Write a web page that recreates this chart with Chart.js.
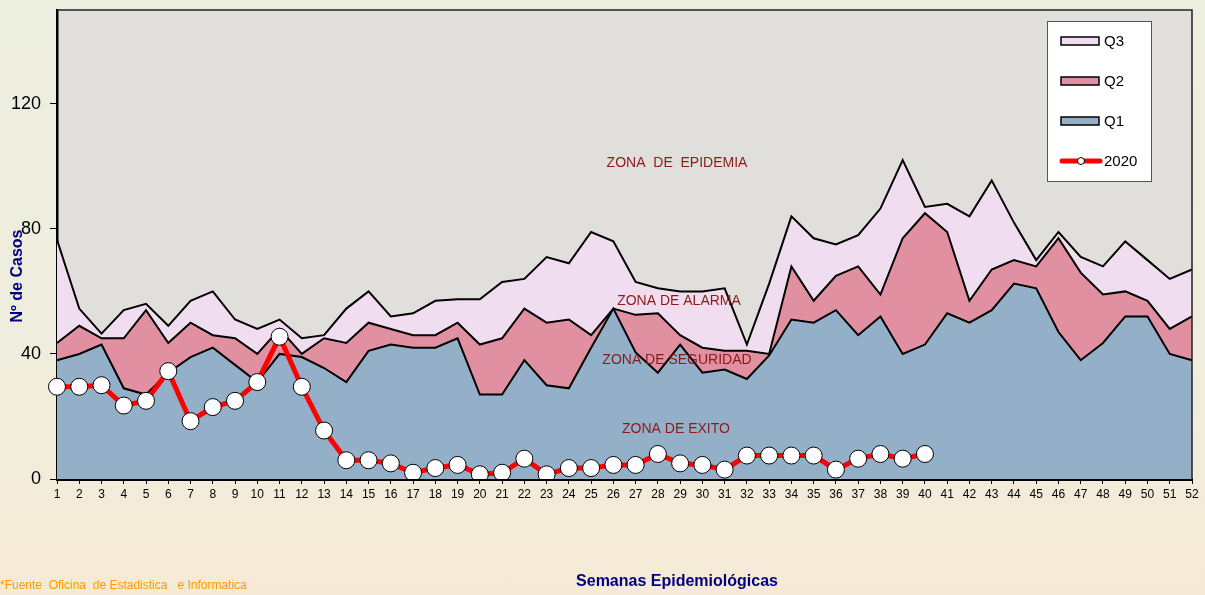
<!DOCTYPE html>
<html lang="es">
<head>
    <meta charset="UTF-8">
    <title>Canal endémico 2020</title>
    <script src="https://cdn.jsdelivr.net/npm/chart.js"></script>
    <style>
        * { box-sizing: border-box; margin: 0; padding: 0; }
        body {
            width: 1205px;
            height: 595px;
            overflow: hidden;
            background: linear-gradient(to bottom, #ECEEE0 0%, #EFEDDD 60%, #F6EAD6 100%);
        }
        #wrap { position: relative; width: 1205px; height: 595px; }
    </style>
</head>
<body>
<div id="wrap">
    <canvas id="canal" width="1205" height="595"></canvas>
</div>
<script>
    // semanas epidemiologicas
    const semanas = ["1","2","3","4","5","6","7","8","9","10","11","12","13","14","15","16","17","18","19","20",
        "21","22","23","24","25","26","27","28","29","30","31","32","33","34","35","36","37","38","39","40",
        "41","42","43","44","45","46","47","48","49","50","51","52"];

    const q1 = [38, 40, 43, 29, 27, 34, 39, 42, 36.5, 31, 40, 39, 35.5, 31, 41, 43, 42, 42, 45, 27,
        27, 38, 30, 29, 42, 54.5, 40.5, 34, 43, 34, 35, 32, 39.5, 51, 50, 54, 46, 52, 40, 43,
        53, 50, 54, 62.5, 61, 47, 38, 43.5, 52, 52, 40, 38];

    const q2 = [43.5, 49, 45, 45, 54, 43.5, 50, 46, 45, 40, 48, 40, 45, 43.5, 50, 48, 46, 46, 50, 43,
        45, 54.5, 50, 51, 46, 54.5, 52.5, 53, 46, 42, 41, 41, 40, 68, 57, 65, 68, 59, 77, 85,
        79, 57, 67, 70, 68, 77, 66, 59, 60, 57, 48, 52];

    const q3 = [76.5, 54.5, 46.5, 54, 56, 49, 57, 60, 51, 48, 51, 45, 46, 54.5, 60, 52, 53, 57, 57.5, 57.5,
        63, 64, 71, 69, 79, 76, 63, 61, 60, 60, 61, 43, 62.5, 84, 77, 75, 78, 86.5, 102, 87,
        88, 84, 95.5, 82, 70, 79, 71, 68, 76, 70, 64, 67];

    const casos2020 = [29.5, 29.5, 30, 23.5, 25, 34.5, 18.5, 23, 25, 31, 45.5, 29.5, 15.5, 6, 6, 5, 2, 3.5, 4.5, 1.5,
        2, 6.5, 1.5, 3.5, 3.5, 4.5, 4.5, 8, 5, 4.5, 3, 7.5, 7.5, 7.5, 7.5, 3, 6.5, 8, 6.5, 8];

    const yTicks = [0, 40, 80, 120];

    const zonas = [
        { text: "ZONA  DE  EPIDEMIA", x: 677, y: 163 },
        { text: "ZONA DE ALARMA", x: 679, y: 301 },
        { text: "ZONA DE SEGURIDAD", x: 677, y: 360 },
        { text: "ZONA DE EXITO", x: 676, y: 429 }
    ];

    Chart.defaults.font.family = 'Arial, "Liberation Sans", sans-serif';
    Chart.defaults.color = '#000';

    // fondo gris del area de trazado
    const plotBg = {
        id: 'plotBg',
        beforeDraw(chart) {
            const { ctx, chartArea: a } = chart;
            ctx.save();
            ctx.fillStyle = '#E1DFDC';
            ctx.fillRect(a.left, a.top, a.right - a.left, a.bottom - a.top);
            ctx.restore();
        }
    };

    // textos, leyenda y borde
    const extras = {
        id: 'extras',
        afterDatasetsDraw(chart) {
            const { ctx, chartArea: a } = chart;
            ctx.save();
            ctx.strokeStyle = '#222';
            ctx.lineWidth = 1.5;
            ctx.beginPath();
            ctx.moveTo(a.left, a.top);
            ctx.lineTo(a.right, a.top);
            ctx.lineTo(a.right, a.bottom);
            ctx.stroke();

            ctx.fillStyle = '#8B1A1A';
            ctx.font = '14px Arial, "Liberation Sans", sans-serif';
            ctx.textAlign = 'center';
            ctx.textBaseline = 'middle';
            zonas.forEach(z => ctx.fillText(z.text, z.x, z.y));
            ctx.restore();
        },
        afterDraw(chart) {
            const ctx = chart.ctx;
            ctx.save();

            // leyenda
            ctx.fillStyle = '#fff';
            ctx.fillRect(1047, 21, 104, 160);
            ctx.strokeStyle = '#555';
            ctx.lineWidth = 1;
            ctx.strokeRect(1047.5, 21.5, 104, 160);

            const items = [
                { ds: chart.data.datasets[3], y: 41 },
                { ds: chart.data.datasets[2], y: 81 },
                { ds: chart.data.datasets[1], y: 121 }
            ];
            ctx.font = '15px Arial, "Liberation Sans", sans-serif';
            ctx.textAlign = 'left';
            ctx.textBaseline = 'middle';
            items.forEach(it => {
                ctx.fillStyle = it.ds.backgroundColor;
                ctx.fillRect(1061, it.y - 4, 38, 8);
                ctx.strokeStyle = '#000';
                ctx.lineWidth = 1.5;
                ctx.strokeRect(1061, it.y - 4, 38, 8);
                ctx.fillStyle = '#000';
                ctx.fillText(it.ds.label, 1104, it.y + 1);
            });
            ctx.strokeStyle = '#FF0000';
            ctx.lineWidth = 5;
            ctx.lineCap = 'round';
            ctx.beginPath();
            ctx.moveTo(1062, 161);
            ctx.lineTo(1100, 161);
            ctx.stroke();
            ctx.beginPath();
            ctx.arc(1081, 161, 3.5, 0, Math.PI * 2);
            ctx.fillStyle = '#fff';
            ctx.fill();
            ctx.lineWidth = 1;
            ctx.strokeStyle = '#000';
            ctx.stroke();
            ctx.fillStyle = '#000';
            ctx.fillText(chart.data.datasets[0].label, 1104, 162);

            // titulos de ejes
            ctx.fillStyle = '#000080';
            ctx.font = 'bold 16px Arial, "Liberation Sans", sans-serif';
            ctx.textAlign = 'center';
            ctx.fillText('Semanas Epidemiológicas', 677, 582);
            ctx.save();
            ctx.translate(18, 276);
            ctx.rotate(-Math.PI / 2);
            ctx.fillText('Nº de Casos', 0, 0);
            ctx.restore();

            // fuente
            ctx.fillStyle = '#FF9900';
            ctx.font = '12px Arial, "Liberation Sans", sans-serif';
            ctx.textAlign = 'left';
            ctx.fillText('*Fuente  Oficina  de Estadistica   e Informatica', 0, 586);

            ctx.restore();
        }
    };

    new Chart(document.getElementById('canal'), {
        type: 'line',
        data: {
            labels: semanas,
            datasets: [
                {
                    label: '2020',
                    data: casos2020,
                    borderColor: '#FF0000',
                    borderWidth: 5,
                    pointRadius: 8.5,
                    pointBackgroundColor: '#fff',
                    pointBorderColor: '#000',
                    pointBorderWidth: 1,
                    fill: false,
                    tension: 0,
                    order: 0
                },
                {
                    label: 'Q1',
                    data: q1,
                    borderColor: '#000',
                    borderWidth: 2,
                    backgroundColor: '#94AFC8',
                    pointRadius: 0,
                    fill: 'origin',
                    tension: 0,
                    order: 1
                },
                {
                    label: 'Q2',
                    data: q2,
                    borderColor: '#000',
                    borderWidth: 2,
                    backgroundColor: '#E090A1',
                    pointRadius: 0,
                    fill: '-1',
                    tension: 0,
                    order: 2
                },
                {
                    label: 'Q3',
                    data: q3,
                    borderColor: '#000',
                    borderWidth: 2,
                    backgroundColor: '#F0DDEF',
                    pointRadius: 0,
                    fill: '-1',
                    tension: 0,
                    order: 3
                }
            ]
        },
        options: {
            responsive: false,
            animation: false,
            layout: { padding: { left: 0, top: 10, right: 13, bottom: 86 } },
            plugins: {
                legend: { display: false },
                tooltip: { enabled: false }
            },
            scales: {
                x: {
                    offset: false,
                    grid: { drawOnChartArea: false, tickLength: 5, color: '#000' },
                    border: { color: '#000', width: 3 },
                    ticks: { font: { size: 12 }, padding: 3, maxRotation: 0, autoSkip: false },
                    afterFit(scale) { scale.height = 30; }
                },
                y: {
                    min: 0,
                    max: 150,
                    grid: { drawOnChartArea: false, tickLength: 7, color: '#000' },
                    border: { color: '#000', width: 2.5 },
                    ticks: { stepSize: 40, font: { size: 18 }, padding: 9 },
                    afterBuildTicks(scale) {
                        scale.ticks = yTicks.map(v => ({ value: v }));
                    },
                    afterFit(scale) {
                        scale.width = 57;
                        scale.paddingTop = 0;
                        scale.paddingBottom = 0;
                    }
                }
            }
        },
        plugins: [plotBg, extras]
    });
</script>
</body>
</html>
